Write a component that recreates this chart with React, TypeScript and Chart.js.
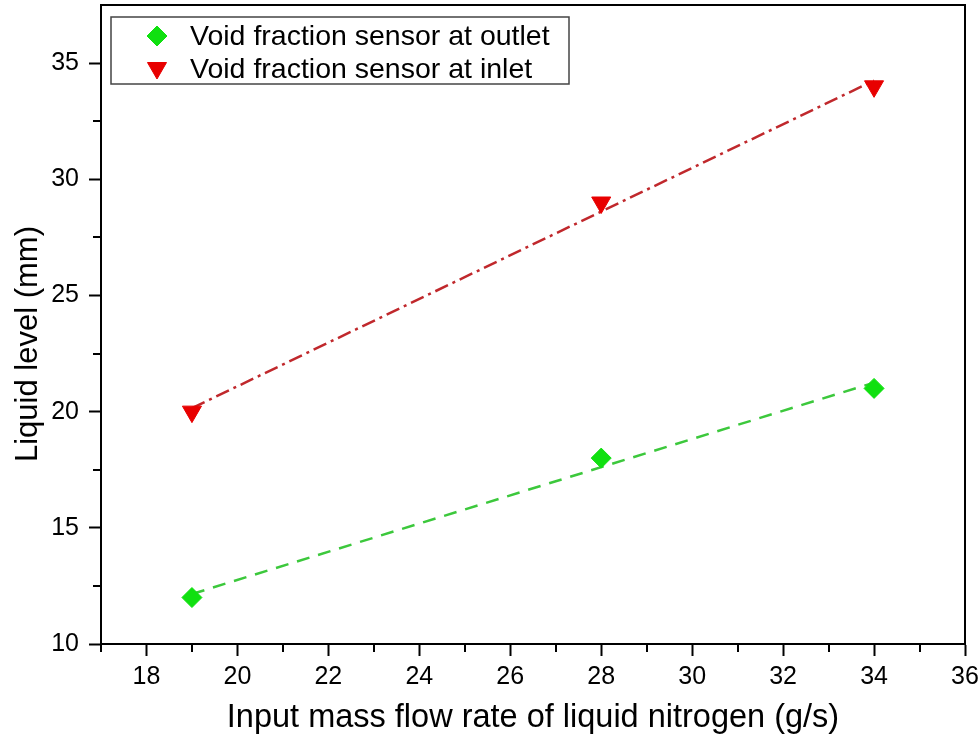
import React, { useEffect, useRef } from 'react';
import { Chart, registerables } from 'chart.js';
import { drawPoint } from 'chart.js/helpers';

Chart.register(...registerables);

// ---- data ----
const xValues = [19, 28, 34];
const outletLevels = [12, 18, 21];
const inletLevels = [20, 29, 34];
const fitX = [19, 34];
const outletFit = [12.15, 21.25];
const inletFit = [20.15, 34.25];

const xTicks = [18, 20, 22, 24, 26, 28, 30, 32, 34, 36];
const yTicks = [10, 15, 20, 25, 30, 35];
const xMinorTicks = [17, 19, 21, 23, 25, 27, 29, 31, 33, 35];
const yMinorTicks = [12.5, 17.5, 22.5, 27.5, 32.5];

const seriesLabels = ['Void fraction sensor at outlet', 'Void fraction sensor at inlet'];
const xTitle = 'Input mass flow rate of liquid nitrogen (g/s)';
const yTitle = 'Liquid level (mm)';

const FONT = '"Liberation Sans", Arial, sans-serif';
const GREEN = '#10e010';
const RED = '#e80000';
const GREEN_LINE = '#3cc83c';
const RED_LINE = '#c0282c';

const decorPlugin = {
  id: 'decor',
  afterDraw(chart: any) {
    const ctx = chart.ctx;
    const { left, right, top, bottom } = chart.chartArea;
    const xs = chart.scales.x;
    const ys = chart.scales.y;
    ctx.save();
    // frame (top & right)
    ctx.strokeStyle = '#000';
    ctx.lineWidth = 2;
    ctx.beginPath();
    ctx.moveTo(left, top);
    ctx.lineTo(right, top);
    ctx.lineTo(right, bottom);
    ctx.stroke();
    // minor ticks
    ctx.lineWidth = 2;
    ctx.beginPath();
    xMinorTicks.forEach((v) => {
      const px = Math.round(xs.getPixelForValue(v));
      ctx.moveTo(px, bottom);
      ctx.lineTo(px, bottom + 8);
    });
    yMinorTicks.forEach((v) => {
      const py = Math.round(ys.getPixelForValue(v));
      ctx.moveTo(left, py);
      ctx.lineTo(left - 8, py);
    });
    ctx.stroke();

    // axis titles
    ctx.fillStyle = '#000';
    ctx.font = `32.5px ${FONT}`;
    ctx.textAlign = 'center';
    ctx.textBaseline = 'alphabetic';
    ctx.fillText(xTitle, (left + right) / 2, 727);
    ctx.font = `31px ${FONT}`;
    ctx.save();
    ctx.translate(37, 344);
    ctx.rotate(-Math.PI / 2);
    ctx.fillText(yTitle, 0, 0);
    ctx.restore();

    // legend
    const bx = 111, by = 17, bw = 458, bh = 67;
    ctx.fillStyle = '#fff';
    ctx.fillRect(bx, by, bw, bh);
    ctx.strokeStyle = '#444';
    ctx.lineWidth = 1.5;
    ctx.strokeRect(bx, by, bw, bh);
    const rows = [36, 69];
    const styles = [
      { pointStyle: 'rectRot', radius: 10, rotation: 0, color: GREEN },
      { pointStyle: 'triangle', radius: 11, rotation: 180, color: RED },
    ];
    ctx.font = `28.5px ${FONT}`;
    ctx.textAlign = 'left';
    ctx.textBaseline = 'middle';
    rows.forEach((ry, i) => {
      const st = styles[i];
      ctx.fillStyle = st.color;
      ctx.strokeStyle = st.color;
      ctx.lineWidth = 1;
      drawPoint(ctx, { pointStyle: st.pointStyle, radius: st.radius, rotation: st.rotation, borderWidth: 1 } as any, 157, ry + (i === 1 ? -1 : 0));
      ctx.fillStyle = '#000';
      ctx.fillText(seriesLabels[i], 190, ry + 1);
    });
    ctx.restore();
  },
};

export default function App() {
  const canvasRef = useRef<HTMLCanvasElement | null>(null);

  useEffect(() => {
    document.body.style.margin = '0';
    const canvas = canvasRef.current;
    if (!canvas) return;
    const chart = new Chart(canvas, {
      type: 'scatter',
      data: {
        datasets: [
          {
            label: seriesLabels[0],
            data: xValues.map((x, i) => ({ x, y: outletLevels[i] })),
            pointStyle: 'rectRot',
            pointRadius: 10,
            backgroundColor: GREEN,
            borderColor: GREEN,
            borderWidth: 1,
            showLine: false,
          },
          {
            label: seriesLabels[1],
            data: xValues.map((x, i) => ({ x, y: inletLevels[i] })),
            pointStyle: 'triangle',
            pointRotation: 180,
            pointRadius: 11,
            backgroundColor: RED,
            borderColor: RED,
            borderWidth: 1,
            showLine: false,
          },
          {
            label: 'outlet fit',
            data: fitX.map((x, i) => ({ x, y: outletFit[i] })),
            showLine: true,
            pointRadius: 0,
            borderColor: GREEN_LINE,
            borderWidth: 2.5,
            borderDash: [13, 9],
            fill: false,
          },
          {
            label: 'inlet fit',
            data: fitX.map((x, i) => ({ x, y: inletFit[i] })),
            showLine: true,
            pointRadius: 0,
            borderColor: RED_LINE,
            borderWidth: 2.5,
            borderDash: [14, 5, 3, 5],
            fill: false,
          },
        ],
      },
      options: {
        responsive: false,
        animation: false,
        devicePixelRatio: 1,
        layout: { autoPadding: false, padding: { top: 5, right: 15, left: 0, bottom: 0 } },
        plugins: {
          legend: { display: false },
          tooltip: { enabled: false },
          title: { display: false },
        },
        scales: {
          x: {
            type: 'linear',
            min: 17,
            max: 36,
            afterBuildTicks: (s: any) => {
              s.ticks = xTicks.map((v) => ({ value: v }));
            },
            afterFit: (s: any) => {
              s.height = 93;
              s.paddingLeft = 0;
              s.paddingRight = 0;
            },
            grid: {
              display: true,
              drawOnChartArea: false,
              drawTicks: true,
              tickLength: 12,
              tickWidth: 2,
              tickColor: '#000',
            },
            border: { display: true, color: '#000', width: 2 },
            ticks: {
              color: '#000',
              font: { family: FONT, size: 25 },
              padding: 6,
              maxRotation: 0,
              autoSkip: false,
            },
          },
          y: {
            type: 'linear',
            min: 10,
            max: 37.5,
            afterBuildTicks: (s: any) => {
              s.ticks = yTicks.map((v) => ({ value: v }));
            },
            afterFit: (s: any) => {
              s.width = 101;
              s.paddingTop = 0;
              s.paddingBottom = 0;
            },
            grid: {
              display: true,
              drawOnChartArea: false,
              drawTicks: true,
              tickLength: 12,
              tickWidth: 2,
              tickColor: '#000',
            },
            border: { display: true, color: '#000', width: 2 },
            ticks: {
              color: '#000',
              font: { family: FONT, size: 25 },
              padding: 10,
              autoSkip: false,
            },
          },
        },
      },
      plugins: [decorPlugin],
    } as any);
    return () => chart.destroy();
  }, []);

  return (
    <div style={{ position: 'absolute', left: 0, top: 0, width: 980, height: 737, background: '#fff' }}>
      <canvas ref={canvasRef} width={980} height={737} style={{ display: 'block' }} />
    </div>
  );
}
